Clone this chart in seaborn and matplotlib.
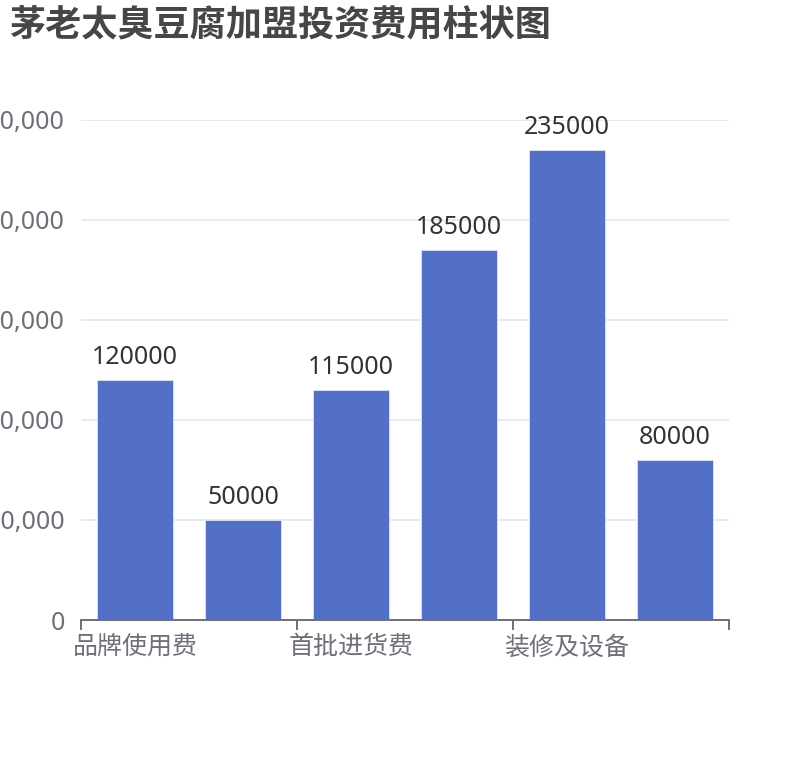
import matplotlib
matplotlib.use("Agg")
import matplotlib.pyplot as plt
import seaborn as sns
import pandas as pd
from matplotlib.ticker import FuncFormatter, FixedLocator

categories = ["品牌使用费", "加盟保证金", "首批进货费", "人员培训费", "装修及设备", "流动资金"]
values = [120000, 50000, 115000, 185000, 235000, 80000]
shown_labels = ["品牌使用费", "首批进货费", "装修及设备"]
title = "茅老太臭豆腐加盟投资费用柱状图"

sns.set_theme(style="white")
plt.rcParams['font.family'] = ['Noto Sans', 'Noto Sans CJK SC', 'DejaVu Sans']

df = pd.DataFrame({"cat": categories, "val": values})

fig = plt.figure(figsize=(8.1, 7.6), dpi=100)
ax = fig.add_axes([81/810, 140/760, 648/810, 500/760])

sns.barplot(data=df, x="cat", y="val", color="#5470c6", saturation=1,
            width=0.7, ax=ax, edgecolor="#dfe5f5", linewidth=0.6)

ax.set_xlim(-0.5, len(categories) - 0.5)
ax.set_ylim(0, 250000)
ax.yaxis.set_major_locator(FixedLocator([0, 50000, 100000, 150000, 200000, 250000]))
ax.yaxis.set_major_formatter(FuncFormatter(lambda v, p: f"{int(v):,}"))
ax.grid(axis="y", color="#e0e6f1", linewidth=1.2)
ax.set_axisbelow(True)
for s in ["top", "right", "left"]:
    ax.spines[s].set_visible(False)
ax.spines["bottom"].set_color("#6e7079")
ax.spines["bottom"].set_linewidth(1.4)

ax.tick_params(axis="y", left=False, length=0, pad=11.5, labelsize=18, labelcolor="#6e7079")
# ticks at boundaries every two categories
ax.set_xticks([-0.5, 1.5, 3.5, 5.5])
ax.set_xticklabels([])
ax.set_xticks([0, 2, 4], minor=True)
ax.set_xticklabels(shown_labels, minor=True)
ax.tick_params(axis="x", which="major", bottom=True, length=7, width=1.4,
               color="#6e7079", direction="out")
ax.tick_params(axis="x", which="minor", bottom=False, length=0, pad=11,
               labelsize=18, labelcolor="#6e7079")
ax.set_xlabel("")
ax.set_ylabel("")

for cont in ax.containers:
    ax.bar_label(cont, labels=[str(v) for v in values], padding=7, fontsize=18, color="#333333")

fig.text(10/810, 1 - 27/760, title, fontsize=26, fontweight="bold", color="#464646",
         ha="left", va="center")

fig.savefig("out.png", dpi=100)
